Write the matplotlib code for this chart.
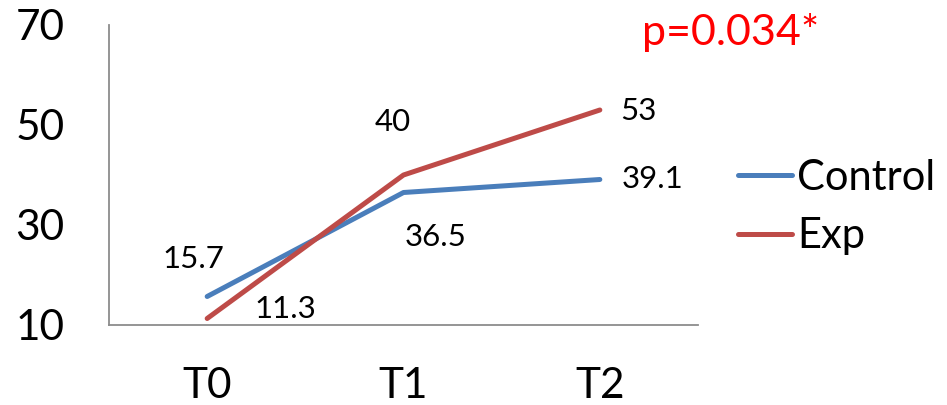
import matplotlib
matplotlib.use("Agg")
import matplotlib.pyplot as plt

plt.rcParams['font.family'] = ['Lato', 'DejaVu Sans']

timepoints = ["T0", "T1", "T2"]
control = [15.7, 36.5, 39.1]
exp = [11.3, 40, 53]
y_ticks = [10, 30, 50, 70]
p_text = "p=0.034*"

# label offsets in points (dx, dy) relative to each data point
control_offsets = [(-10, 27), (23, -32), (38, 0)]
exp_offsets = [(56, 7), (-8, 38), (28, -1)]

blue = "#4A7EBB"
red = "#BE4B48"

fig = plt.figure(figsize=(9.47, 4.05), dpi=100)
ax = fig.add_axes([109 / 947, 80 / 405, 589 / 947, 300 / 405])

x = [0.5, 1.5, 2.5]
ax.plot(x, control, color=blue, lw=3.6, solid_capstyle='round', label="Control")
ax.plot(x, exp, color=red, lw=3.6, solid_capstyle='round', label="Exp")

for xi, v, off in zip(x, control, control_offsets):
    ax.annotate(f"{v:g}", (xi, v), xytext=off, textcoords='offset points',
                ha='center', va='center', fontsize=22.5, color='black')
for xi, v, off in zip(x, exp, exp_offsets):
    ax.annotate(f"{v:g}", (xi, v), xytext=off, textcoords='offset points',
                ha='center', va='center', fontsize=22.5, color='black')

ax.set_xlim(0, 3)
ax.set_ylim(10, 70)
ax.set_xticks(x)
ax.set_xticklabels(timepoints)
ax.set_yticks(y_ticks)
ax.tick_params(axis='x', length=0, pad=30, labelsize=30.5)
ax.tick_params(axis='y', length=0, pad=32, labelsize=30.5)

for side in ['top', 'right']:
    ax.spines[side].set_visible(False)
for side in ['left', 'bottom']:
    ax.spines[side].set_color('#8C8C8C')
    ax.spines[side].set_linewidth(1.3)

leg = ax.legend(loc='center left', bbox_to_anchor=(738 / 947, 198 / 405),
                bbox_transform=fig.transFigure, frameon=False, fontsize=30,
                handlelength=1.3, handletextpad=0.12, borderpad=0,
                borderaxespad=0, labelspacing=0.5)

fig.text(642 / 947, (405 - 33) / 405, p_text, color='#FF0000', fontsize=31,
         ha='left', va='center')

fig.savefig("out.png", dpi=100)
